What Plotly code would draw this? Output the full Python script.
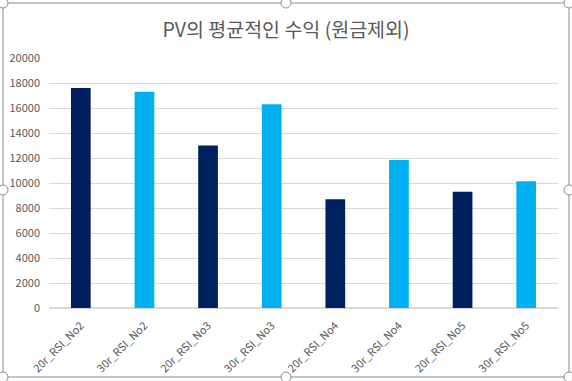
import plotly.graph_objects as go

categories = ["20r_RSI_No2", "30r_RSI_No2", "20r_RSI_No3", "30r_RSI_No3",
              "20r_RSI_No4", "30r_RSI_No4", "20r_RSI_No5", "30r_RSI_No5"]
values = [17600, 17300, 13000, 16300, 8700, 11850, 9300, 10150]
colors = ["#002060", "#00B0F0"] * 4
y_ticks = list(range(0, 20001, 2000))

W, H = 572, 381
L, R, T, B = 49, 14, 58, 73
pw, ph = W - L - R, H - T - B

def px(x):
    return (x - L) / pw

def py(y):
    return (H - B - y) / ph

fig = go.Figure(go.Bar(x=categories, y=values, marker=dict(color=colors, line=dict(width=0)), width=0.31))

shapes = [dict(type="rect", xref="paper", yref="paper", x0=px(3), x1=px(569), y0=py(3), y1=py(377),
               line=dict(color="#8C8C8C", width=1), fillcolor="rgba(0,0,0,0)", layer="above")]
for cx, cy in [(3, 3), (286, 3), (569, 3), (3, 190), (569, 190), (3, 377), (286, 377), (569, 377)]:
    r = 5
    shapes.append(dict(type="circle", xref="paper", yref="paper", x0=px(cx - r), x1=px(cx + r),
                       y0=py(cy + r), y1=py(cy - r), line=dict(color="#8C8C8C", width=1), fillcolor="white",
                       layer="above"))

fig.update_layout(
    width=W, height=H,
    margin=dict(l=L, r=R, t=T, b=B, autoexpand=False),
    paper_bgcolor="white", plot_bgcolor="white",
    font=dict(family="Noto Sans CJK KR, Noto Sans, sans-serif", color="#595959"),
    title=dict(text="PV의 평균적인 수익 (원금제외)", x=0.5, xanchor="center", y=1 - 30 / H, yanchor="middle",
               font=dict(size=19.5, color="#595959")),
    xaxis=dict(tickangle=-45, tickfont=dict(size=11, color="#595959"), showgrid=False, showline=False,
               ticks="", range=[-0.5, 7.5], automargin=False, ticklabelstandoff=8),
    yaxis=dict(range=[0, 20000], tickvals=y_ticks, ticktext=[str(v) for v in y_ticks],
               tickfont=dict(size=11, color="#595959"), gridcolor="#D9D9D9", gridwidth=1,
               zeroline=True, zerolinecolor="#D9D9D9", showline=False, ticks="", ticklabelstandoff=8,
               automargin=False),
    shapes=shapes,
    showlegend=False,
    bargap=0.69,
)

fig.write_html("out.html", config={"displayModeBar": False},
               post_script="document.body.style.margin='0';document.body.style.overflow='hidden';")
